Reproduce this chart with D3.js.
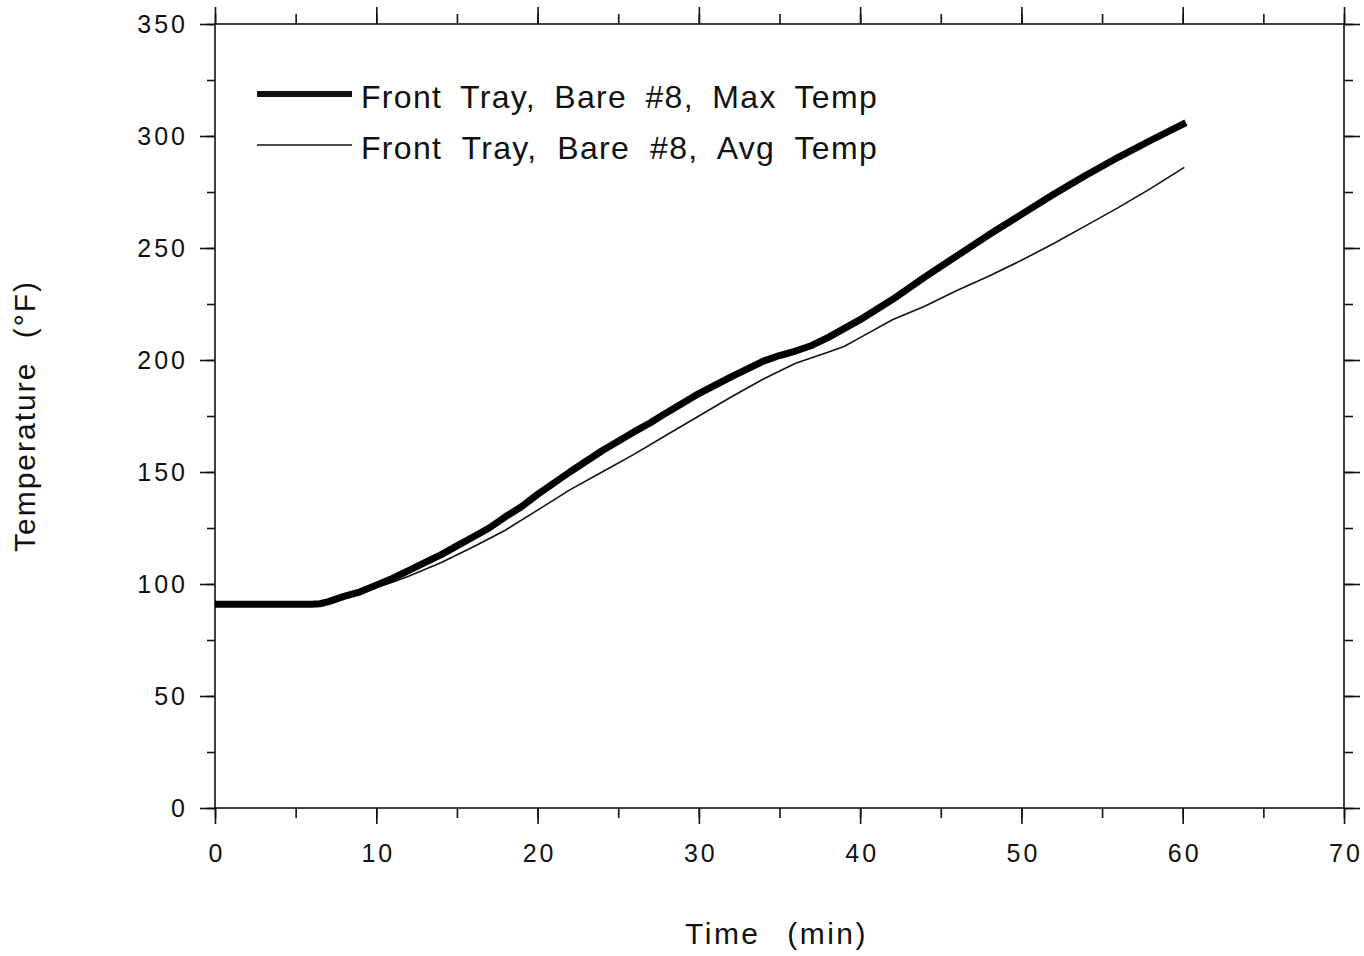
<!DOCTYPE html>
<html>
<head>
<meta charset="utf-8">
<script src="https://cdn.jsdelivr.net/npm/d3@7"></script>
<style>
  body { margin: 0; background: #fff; }
  svg text { font-family: "Liberation Sans", Arial, Helvetica, sans-serif; fill: #111; }
</style>
</head>
<body>
<svg id="chart" width="1364" height="956"></svg>
<script>
// time (min) and temperature (°F)
const maxTime = [0, 2, 4, 6, 6.5, 7, 8, 9, 10, 11, 12, 13, 14, 15, 16, 17, 18, 19, 20, 22, 24, 26, 27, 28, 30, 32, 34, 35, 36, 37, 38, 40, 42, 44, 46, 48, 50, 52, 54, 56, 58, 60.2];
const maxTemp = [91, 91, 91, 91, 91.2, 92, 94.5, 96.5, 99.5, 102.5, 106, 109.5, 113, 117, 121, 125, 130, 134.5, 140, 150, 159.5, 168, 172, 176.5, 185, 192.5, 199.5, 202, 204, 206.5, 210, 218, 227, 237, 246.5, 256, 265, 274, 282.5, 290.5, 298, 306];

const avgTime = [0, 2, 4, 6, 6.5, 7, 8, 9, 10, 11, 12, 14, 16, 18, 20, 22, 24, 26, 28, 30, 32, 34, 36, 38, 39, 40, 42, 44, 46, 48, 50, 52, 54, 56, 58, 60.1];
const avgTemp = [91, 91, 91, 91, 91.2, 92, 94.5, 96.3, 98.5, 100.8, 103.5, 109.5, 116.5, 124, 133, 142, 150, 158, 166.5, 175, 183.5, 191.5, 198.5, 203.5, 206, 210, 218, 224, 231, 237.5, 244.5, 252, 260, 268, 276.5, 286];

const seriesNames = ["Front Tray, Bare #8, Max Temp", "Front Tray, Bare #8, Avg Temp"];
const xMajorTicks = [0, 10, 20, 30, 40, 50, 60, 70];
const yMajorTicks = [0, 50, 100, 150, 200, 250, 300, 350];

const plotLeft = 215, plotRight = 1344, plotTop = 24, plotBottom = 808;

const svg = d3.select("#chart");

const x = d3.scaleLinear().domain([0, 70]).range([plotLeft, plotRight]);
const y = d3.scaleLinear().domain([0, 350]).range([plotBottom, plotTop]);

const xMinor = d3.range(0, 71, 5);
const yMinor = d3.range(0, 351, 25);

// stretch the gaps between words so a label fills the width seen in the scan
function fitWords(sel, width) {
    sel.each(function() {
        let node = this;
        let words = node.textContent.split(" ").length - 1;
        let natural = node.getComputedTextLength();
        if (words > 0) d3.select(node).attr("word-spacing", Math.max(0, (width - natural) / words) + "px");
    });
}

// frame
svg.append("rect")
    .attr("x", plotLeft).attr("y", plotTop)
    .attr("width", plotRight - plotLeft).attr("height", plotBottom - plotTop)
    .attr("fill", "none").attr("stroke", "#111").attr("stroke-width", 1.6);

function styleAxis(g) {
    g.select(".domain").remove();
    g.selectAll(".tick line").attr("stroke", "#111").attr("stroke-width", 1.6);
}

// minor ticks (no labels)
svg.append("g").attr("transform", `translate(0,${plotBottom})`)
    .call(d3.axisBottom(x).tickValues(xMinor).tickSize(10).tickFormat(""))
    .call(styleAxis);
svg.append("g").attr("transform", `translate(0,${plotTop})`)
    .call(d3.axisTop(x).tickValues(xMinor).tickSize(10).tickFormat(""))
    .call(styleAxis);
svg.append("g").attr("transform", `translate(${plotLeft},0)`)
    .call(d3.axisLeft(y).tickValues(yMinor).tickSize(8).tickFormat(""))
    .call(styleAxis);
svg.append("g").attr("transform", `translate(${plotRight},0)`)
    .call(d3.axisRight(y).tickValues(yMinor).tickSize(9).tickFormat(""))
    .call(styleAxis);

// major ticks
const xAxis = svg.append("g").attr("transform", `translate(0,${plotBottom})`)
    .call(d3.axisBottom(x).tickValues(xMajorTicks).tickSize(16).tickPadding(20).tickFormat(d3.format("d")))
    .call(styleAxis);
svg.append("g").attr("transform", `translate(0,${plotTop})`)
    .call(d3.axisTop(x).tickValues(xMajorTicks).tickSize(17).tickFormat(""))
    .call(styleAxis);
const yAxis = svg.append("g").attr("transform", `translate(${plotLeft},0)`)
    .call(d3.axisLeft(y).tickValues(yMajorTicks).tickSize(15).tickPadding(15).tickFormat(d3.format("d")))
    .call(styleAxis);
svg.append("g").attr("transform", `translate(${plotRight},0)`)
    .call(d3.axisRight(y).tickValues(yMajorTicks).tickSize(16).tickFormat(""))
    .call(styleAxis);

xAxis.selectAll(".tick text")
    .attr("font-size", 25).attr("letter-spacing", "3px")
    .attr("dx", "1.5px").attr("fill", "#111");
yAxis.selectAll(".tick text")
    .attr("font-size", 25).attr("letter-spacing", "3px")
    .attr("dx", "3px").attr("fill", "#111");

// data lines
const line = d3.line().x(d => x(d[0])).y(d => y(d[1]));

const avgData = avgTime.map((t, i) => [t, avgTemp[i]]);
const maxData = maxTime.map((t, i) => [t, maxTemp[i]]);

svg.append("path").datum(avgData)
    .attr("d", line).attr("fill", "none")
    .attr("stroke", "#111").attr("stroke-width", 1.6);
svg.append("path").datum(maxData)
    .attr("d", line).attr("fill", "none")
    .attr("stroke", "#000").attr("stroke-width", 7)
    .attr("stroke-linejoin", "round");

// legend
const legendRows = [
    { name: seriesNames[0], width: 6, y: 94 },
    { name: seriesNames[1], width: 1.6, y: 145 }
];
const legend = svg.append("g");
legend.selectAll("line").data(legendRows).enter().append("line")
    .attr("x1", 257).attr("x2", 352)
    .attr("y1", d => d.y).attr("y2", d => d.y)
    .attr("stroke", "#111").attr("stroke-width", d => d.width);
legend.selectAll("text").data(legendRows).enter().append("text")
    .attr("x", 361).attr("y", d => d.y + 14)
    .attr("font-size", 32).attr("letter-spacing", "1.3px")
    .text(d => d.name)
    .call(fitWords, 517);

// axis titles
svg.append("text")
    .attr("x", 685).attr("y", 944)
    .attr("font-size", 30).attr("letter-spacing", "2.5px")
    .text("Time (min)")
    .call(fitWords, 183);

svg.append("text")
    .attr("transform", "translate(35,552) rotate(-90)")
    .attr("font-size", 30).attr("letter-spacing", "2px")
    .text("Temperature (°F)")
    .call(fitWords, 272);
</script>
</body>
</html>
